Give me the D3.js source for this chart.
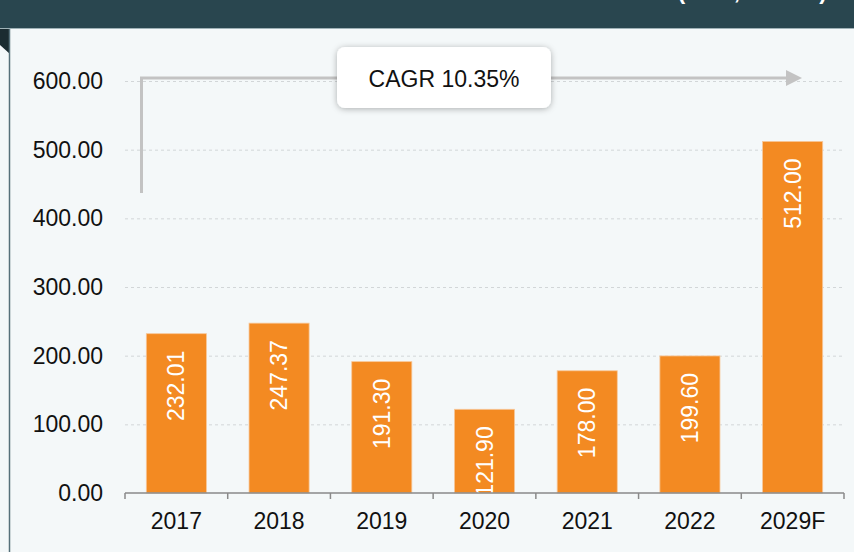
<!DOCTYPE html>
<html>
<head>
<meta charset="utf-8">
<script src="https://cdn.jsdelivr.net/npm/d3@7"></script>
<style>
  body { margin: 0; background: #f4f8f9; }
  svg { display: block; font-family: Arial, "Liberation Sans", sans-serif; }
</style>
</head>
<body>
<div id="my_dataviz"></div>
<script>
// chart data
var years = ["2017", "2018", "2019", "2020", "2021", "2022", "2029F"]
var values = [232.01, 247.37, 191.30, 121.90, 178.00, 199.60, 512.00]
var yTicks = [0, 100, 200, 300, 400, 500, 600]
var cagrLabel = "CAGR 10.35%"
var headerText = "(USD, Million)"

var width = 854,
    height = 552

var svg = d3.select("#my_dataviz")
  .append("svg")
    .attr("width", width)
    .attr("height", height)

// panel + header
svg.append("rect").attr("width", width).attr("height", height).attr("fill", "#f4f8f9")
svg.append("rect").attr("width", width).attr("height", 28).attr("fill", "#29464f")
svg.append("line").attr("x1", 0).attr("x2", width).attr("y1", 28.5).attr("y2", 28.5)
  .attr("stroke", "#9fb2b7").attr("stroke-width", 1)
// header title sits mostly above the top edge, only its descenders show
svg.append("text")
  .attr("x", 827).attr("y", -1)
  .attr("text-anchor", "end")
  .attr("fill", "#fff")
  .style("font-size", "23px").style("font-weight", "bold")
  .text(headerText)
svg.append("polygon").attr("points", "0,29 10,29 10,54 0,45").attr("fill", "#1b2c31")
svg.append("line").attr("x1", 9.5).attr("x2", 9.5).attr("y1", 29).attr("y2", height)
  .attr("stroke", "#56707a").attr("stroke-width", 1.5)

// scales
var x = d3.scaleBand()
  .domain(years)
  .range([125, 844])
  .paddingInner(0.415)
  .paddingOuter(0.2075)

var y = d3.scaleLinear()
  .domain([0, 600])
  .range([493, 81])

// gridlines
svg.append("g")
  .selectAll("line")
  .data(yTicks.slice(1))
  .enter()
  .append("line")
    .attr("x1", 125).attr("x2", 844)
    .attr("y1", function(d) { return y(d) + 0.5 })
    .attr("y2", function(d) { return y(d) + 0.5 })
    .attr("stroke", "#d2d6d8")
    .attr("stroke-dasharray", "3,3")

// y labels
svg.append("g")
  .selectAll("text")
  .data(yTicks)
  .enter()
  .append("text")
    .attr("x", 103)
    .attr("y", function(d) { return y(d) })
    .attr("dy", "0.35em")
    .attr("text-anchor", "end")
    .attr("fill", "#111")
    .style("font-size", "23px")
    .text(function(d) { return d.toFixed(2) })

// bars
svg.append("g")
  .selectAll("rect")
  .data(values)
  .enter()
  .append("rect")
    .attr("x", function(d, i) { return x(years[i]) })
    .attr("y", function(d) { return y(d) })
    .attr("width", x.bandwidth())
    .attr("height", function(d) { return y(0) - y(d) })
    .attr("fill", "#f38a22")
    .attr("stroke", "#f7c89a")
    .attr("stroke-width", 0.8)

// value labels, clipped at the axis
svg.append("clipPath").attr("id", "plotclip")
  .append("rect").attr("x", 100).attr("y", 30).attr("width", 760).attr("height", 463)

svg.append("g")
  .attr("clip-path", "url(#plotclip)")
  .selectAll("text")
  .data(values)
  .enter()
  .append("text")
    .attr("transform", function(d, i) {
      return "translate(" + (x(years[i]) + x.bandwidth() / 2) + "," + (y(d) + 17) + ") rotate(-90)"
    })
    .attr("text-anchor", "end")
    .attr("dy", "0.35em")
    .attr("fill", "#fff")
    .style("font-size", "23px")
    .text(function(d) { return d.toFixed(2) })

// x axis
var xAxis = svg.append("g")
xAxis.append("line")
  .attr("x1", 125).attr("x2", 844).attr("y1", 493).attr("y2", 493)
  .attr("stroke", "#8a8a8a").attr("stroke-width", 1.5)
xAxis.selectAll(".tick")
  .data(d3.range(years.length + 1))
  .enter()
  .append("line")
    .attr("x1", function(i) { return 125 + i * x.step() })
    .attr("x2", function(i) { return 125 + i * x.step() })
    .attr("y1", 493).attr("y2", 499)
    .attr("stroke", "#8a8a8a").attr("stroke-width", 1.5)
xAxis.selectAll("text")
  .data(years)
  .enter()
  .append("text")
    .attr("x", function(d) { return x(d) + x.bandwidth() / 2 })
    .attr("y", 529)
    .attr("text-anchor", "middle")
    .attr("fill", "#111")
    .style("font-size", "23px")
    .text(function(d) { return d })

// CAGR arrow
var defs = svg.append("defs")
var shadow = defs.append("filter").attr("id", "shadow")
  .attr("x", "-20%").attr("y", "-30%").attr("width", "140%").attr("height", "160%")
shadow.append("feDropShadow")
  .attr("dx", 0).attr("dy", 1).attr("stdDeviation", 3)
  .attr("flood-color", "#000").attr("flood-opacity", 0.3)

svg.append("path")
  .attr("d", "M141.5,193 V78 H788")
  .attr("fill", "none")
  .attr("stroke", "#c3c3c3")
  .attr("stroke-width", 3)
svg.append("polygon")
  .attr("points", "786,70 802,78 786,86")
  .attr("fill", "#c3c3c3")

svg.append("rect")
  .attr("x", 337).attr("y", 47)
  .attr("width", 214).attr("height", 61)
  .attr("rx", 8)
  .attr("fill", "#fff")
  .attr("filter", "url(#shadow)")
svg.append("text")
  .attr("x", 444).attr("y", 79)
  .attr("dy", "0.35em")
  .attr("text-anchor", "middle")
  .attr("fill", "#111")
  .style("font-size", "23px")
  .text(cagrLabel)
</script>
</body>
</html>
